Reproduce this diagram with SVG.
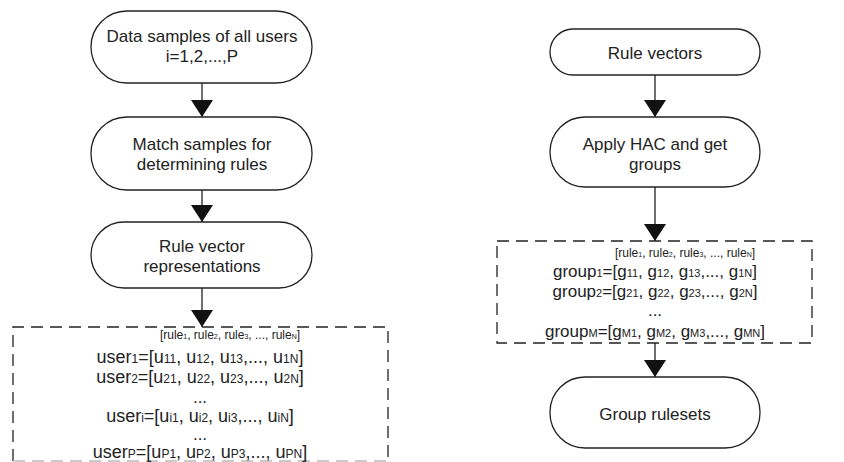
<svg xmlns="http://www.w3.org/2000/svg" width="844" height="462" viewBox="0 0 844 462">
<defs>
<style>
.node rect{fill:#fff;stroke:#222;stroke-width:1.3}
.t{font-family:"Liberation Sans",Arial,sans-serif;font-size:17px;fill:#222;text-anchor:middle}
.u{font-size:18px}
.h{font-family:"Liberation Sans",Arial,sans-serif;font-size:12px;fill:#222;text-anchor:middle}
.s{font-size:11px}
.us{font-size:12px}
.hs{font-size:7px}
.box{fill:none;stroke:#222;stroke-width:1.3;stroke-dasharray:12 7}
.conn line{stroke:#222;stroke-width:1.3;marker-end:url(#arr)}
</style>
<marker id="arr" viewBox="0 0 17 22" markerWidth="17" markerHeight="22" refX="17" refY="11" orient="auto" markerUnits="userSpaceOnUse">
<path d="M0,0 L17,11 L0,22 z" fill="#111"/>
</marker>
</defs>
<rect width="844" height="462" fill="#fff"/>
<g id="connectors" class="conn">
<line x1="202" y1="83" x2="202" y2="117"/>
<line x1="202" y1="190" x2="202" y2="222"/>
<line x1="202" y1="288" x2="202" y2="327"/>
<line x1="655" y1="75" x2="655" y2="117"/>
<line x1="655" y1="187" x2="655" y2="241"/>
<line x1="655" y1="343" x2="655" y2="377"/>
</g>
<g id="n-data" class="node">
<rect x="91" y="11" width="221" height="72" rx="36"/>
<text class="t" x="202" y="42">Data samples of all users</text>
<text class="t" x="202" y="62">i=1,2,...,P</text>
</g>
<g id="n-match" class="node">
<rect x="91" y="117" width="221" height="73" rx="36"/>
<text class="t" x="202" y="150">Match samples for</text>
<text class="t" x="202" y="170">determining rules</text>
</g>
<g id="n-rvr" class="node">
<rect x="91" y="222" width="221" height="66" rx="33"/>
<text class="t" x="202" y="252">Rule vector</text>
<text class="t" x="202" y="272">representations</text>
</g>
<g id="n-users">
<path class="box" d="M13,461 V327 H388 V461"/>
<path class="box" d="M13,461 H388" style="stroke:#bbb"/>
<text class="h" x="230" y="339">[rule<tspan class="hs">1</tspan>, rule<tspan class="hs">2</tspan>, rule<tspan class="hs">3</tspan>, ..., rule<tspan class="hs">N</tspan>]</text>
<text class="t u" x="200" y="363">user<tspan class="us">1</tspan>=[u<tspan class="us">11</tspan>, u<tspan class="us">12</tspan>, u<tspan class="us">13</tspan>,..., u<tspan class="us">1N</tspan>]</text>
<text class="t u" x="200" y="383">user<tspan class="us">2</tspan>=[u<tspan class="us">21</tspan>, u<tspan class="us">22</tspan>, u<tspan class="us">23</tspan>,..., u<tspan class="us">2N</tspan>]</text>
<text class="t" x="200" y="403">...</text>
<text class="t u" x="200" y="422">user<tspan class="us">i</tspan>=[u<tspan class="us">i1</tspan>, u<tspan class="us">i2</tspan>, u<tspan class="us">i3</tspan>,..., u<tspan class="us">iN</tspan>]</text>
<text class="t" x="200" y="440">...</text>
<text class="t u" x="200" y="458">user<tspan class="us">P</tspan>=[u<tspan class="us">P1</tspan>, u<tspan class="us">P2</tspan>, u<tspan class="us">P3</tspan>,..., u<tspan class="us">PN</tspan>]</text>
</g>
<g id="n-rv" class="node">
<rect x="550" y="29" width="210" height="46" rx="23"/>
<text class="t" x="655" y="59">Rule vectors</text>
</g>
<g id="n-hac" class="node">
<rect x="550" y="117" width="210" height="70" rx="35"/>
<text class="t" x="655" y="150">Apply HAC and get</text>
<text class="t" x="655" y="170">groups</text>
</g>
<g id="n-groups">
<rect class="box" x="497" y="241" width="315" height="102"/>
<text class="h" x="685" y="257">[rule<tspan class="hs">1</tspan>, rule<tspan class="hs">2</tspan>, rule<tspan class="hs">3</tspan>, ..., rule<tspan class="hs">N</tspan>]</text>
<text class="t" x="655" y="277">group<tspan class="s">1</tspan>=[g<tspan class="s">11</tspan>, g<tspan class="s">12</tspan>, g<tspan class="s">13</tspan>,..., g<tspan class="s">1N</tspan>]</text>
<text class="t" x="655" y="297">group<tspan class="s">2</tspan>=[g<tspan class="s">21</tspan>, g<tspan class="s">22</tspan>, g<tspan class="s">23</tspan>,..., g<tspan class="s">2N</tspan>]</text>
<text class="t" x="655" y="316">...</text>
<text class="t" x="655" y="337">group<tspan class="s">M</tspan>=[g<tspan class="s">M1</tspan>, g<tspan class="s">M2</tspan>, g<tspan class="s">M3</tspan>,..., g<tspan class="s">MN</tspan>]</text>
</g>
<g id="n-gr" class="node">
<rect x="550" y="377" width="210" height="71" rx="35"/>
<text class="t" x="655" y="420">Group rulesets</text>
</g>
</svg>
